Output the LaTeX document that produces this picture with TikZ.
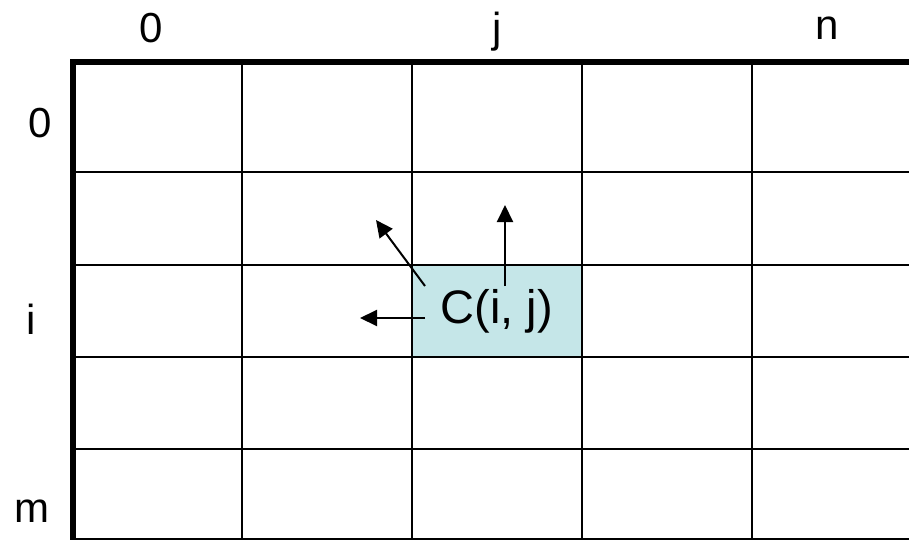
\documentclass[tikz,border=0pt]{standalone}
\usepackage{fontspec}
\setmainfont{Liberation Sans}
\usetikzlibrary{arrows.meta}
\definecolor{cellcyan}{HTML}{C5E6E8}

\begin{document}
\begin{tikzpicture}[
    x=1pt, y=-1pt,
    idxlabel/.style={anchor=base, inner sep=0pt, font=\fontsize{42}{42}\selectfont},
    celllabel/.style={anchor=base, inner sep=0pt, font=\fontsize{47}{47}\selectfont},
    gridline/.style={line width=2pt, draw=black},
    border/.style={line width=6pt, draw=black},
    arrow/.style={-{Triangle[length=17pt, width=16pt]}, line width=2pt, draw=black}
  ]
    \useasboundingbox (0,0) rectangle (909,540);
    \clip (0,0) rectangle (909,540);
    % highlighted cell
    \fill[cellcyan] (412,265) rectangle (582,357);
    % grid
    \foreach \x in {242,412,582,752}
      \draw[gridline] (\x,62) -- (\x,545);
    \foreach \y in {172,265,357,449,539}
      \draw[gridline] (73,\y) -- (915,\y);
    \draw[border] (73,545) -- (73,62) -- (915,62);
    % index labels
    \node[idxlabel] (col0) at (151,43) {0};
    \node[idxlabel] (colj) at (497,43) {j};
    \node[idxlabel] (coln) at (827,40) {n};
    \node[idxlabel] (row0) at (40,138) {0};
    \node[idxlabel] (rowi) at (31,334) {i};
    \node[idxlabel] (rowm) at (32,522) {m};
    % cell and its neighbours
    \node[celllabel] (cij) at (497,323) {C(i, j)};
    \coordinate (upfrom) at (505,286);
    \coordinate (upto) at (505,205);
    \coordinate (leftfrom) at (425,318);
    \coordinate (leftto) at (360,318);
    \coordinate (diagfrom) at (425,286);
    \coordinate (diagto) at (376,220);
    \draw[arrow] (upfrom) -- (upto);
    \draw[arrow] (leftfrom) -- (leftto);
    \draw[arrow] (diagfrom) -- (diagto);
  \end{tikzpicture}
\end{document}
